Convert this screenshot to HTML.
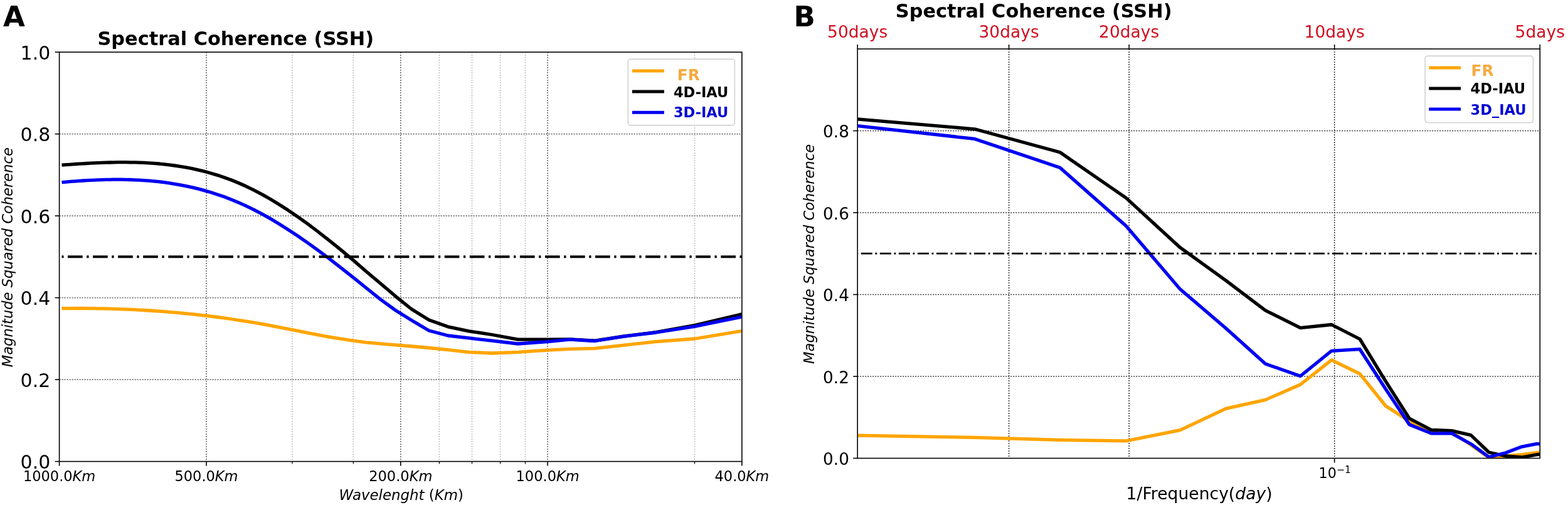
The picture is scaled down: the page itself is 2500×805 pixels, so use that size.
<!DOCTYPE html><html><head><meta charset="utf-8"><title>Spectral Coherence (SSH)</title>
<style>html,body{margin:0;padding:0;background:#fff;}svg{display:block;}text{font-family:"DejaVu Sans", "Liberation Sans", sans-serif;}</style></head><body>
<svg width="2500" height="805" viewBox="0 0 2500 805">
<rect x="0" y="0" width="2500" height="805" fill="#fff"/>
<defs><clipPath id="ca"><rect x="94.6" y="83.1" width="1088.3" height="652.5"/></clipPath>
<clipPath id="cb"><rect x="1367.2" y="78.0" width="1088.1" height="652.5"/></clipPath></defs>
<line x1="466.0" y1="83.1" x2="466.0" y2="735.6" stroke="#c2c2c2" stroke-width="1.6" stroke-dasharray="2 2"/>
<line x1="563.3" y1="83.1" x2="563.3" y2="735.6" stroke="#c2c2c2" stroke-width="1.6" stroke-dasharray="2 2"/>
<line x1="700.4" y1="83.1" x2="700.4" y2="735.6" stroke="#c2c2c2" stroke-width="1.6" stroke-dasharray="2 2"/>
<line x1="752.5" y1="83.1" x2="752.5" y2="735.6" stroke="#c2c2c2" stroke-width="1.6" stroke-dasharray="2 2"/>
<line x1="797.7" y1="83.1" x2="797.7" y2="735.6" stroke="#c2c2c2" stroke-width="1.6" stroke-dasharray="2 2"/>
<line x1="837.5" y1="83.1" x2="837.5" y2="735.6" stroke="#c2c2c2" stroke-width="1.6" stroke-dasharray="2 2"/>
<line x1="1107.5" y1="83.1" x2="1107.5" y2="735.6" stroke="#c2c2c2" stroke-width="1.6" stroke-dasharray="2 2"/>
<line x1="329.0" y1="83.1" x2="329.0" y2="735.6" stroke="#6a6a6a" stroke-width="1.6" stroke-dasharray="2 2"/>
<line x1="638.8" y1="83.1" x2="638.8" y2="735.6" stroke="#6a6a6a" stroke-width="1.6" stroke-dasharray="2 2"/>
<line x1="873.1" y1="83.1" x2="873.1" y2="735.6" stroke="#6a6a6a" stroke-width="1.6" stroke-dasharray="2 2"/>
<line x1="94.6" y1="605.1" x2="1182.9" y2="605.1" stroke="#6a6a6a" stroke-width="1.6" stroke-dasharray="2 2"/>
<line x1="94.6" y1="474.6" x2="1182.9" y2="474.6" stroke="#6a6a6a" stroke-width="1.6" stroke-dasharray="2 2"/>
<line x1="94.6" y1="344.1" x2="1182.9" y2="344.1" stroke="#6a6a6a" stroke-width="1.6" stroke-dasharray="2 2"/>
<line x1="94.6" y1="213.6" x2="1182.9" y2="213.6" stroke="#6a6a6a" stroke-width="1.6" stroke-dasharray="2 2"/>
<g clip-path="url(#ca)" fill="none" stroke-width="5.3" stroke-linejoin="round" stroke-linecap="butt">
<polyline points="98.5,491.7 104.9,491.6 110.2,491.6 115.5,491.6 121.0,491.5 126.5,491.5 132.1,491.5 137.8,491.6 143.6,491.6 149.5,491.7 155.6,491.8 161.7,491.9 167.9,492.0 174.3,492.2 180.8,492.3 187.4,492.6 194.1,492.8 201.0,493.1 208.0,493.4 215.2,493.7 222.5,494.1 230.0,494.5 237.7,495.0 245.5,495.5 253.5,496.1 261.7,496.7 270.1,497.4 278.8,498.1 287.6,498.9 296.7,499.8 306.1,500.7 315.7,501.8 325.6,502.9 335.8,504.1 346.3,505.5 357.1,506.9 368.4,508.5 379.9,510.3 392.0,512.1 404.4,514.2 417.3,516.4 430.8,518.9 444.7,521.6 459.3,524.4 474.6,527.4 490.6,530.6 507.3,533.8 525.0,537.1 543.6,540.2 563.3,543.2 584.2,545.9 606.5,547.9 630.4,549.8 656.1,552.0 683.9,554.5 714.2,557.6 747.5,561.3 784.4,563.0 825.8,561.3 873.1,558.1 908.7,556.4 948.5,555.4 993.7,550.3 1045.8,544.6 1107.5,540.0 1182.9,527.5" stroke="#ffa500"/>
<polyline points="98.5,263.1 104.9,262.6 110.2,262.3 115.5,261.9 121.0,261.5 126.5,261.2 132.1,260.9 137.8,260.5 143.6,260.2 149.5,259.9 155.6,259.6 161.7,259.4 167.9,259.2 174.3,259.0 180.8,258.8 187.4,258.7 194.1,258.7 201.0,258.7 208.0,258.8 215.2,258.9 222.5,259.1 230.0,259.4 237.7,259.9 245.5,260.4 253.5,261.0 261.7,261.9 270.1,262.8 278.8,264.0 287.6,265.3 296.7,266.9 306.1,268.7 315.7,270.8 325.6,273.2 335.8,276.0 346.3,279.1 357.1,282.7 368.4,286.8 379.9,291.5 392.0,296.8 404.4,302.8 417.3,309.6 430.8,317.2 444.7,325.7 459.3,335.1 474.6,345.5 490.6,356.9 507.3,369.5 525.0,383.3 543.6,398.4 563.3,414.9 584.2,432.9 606.5,451.7 630.4,472.1 656.1,492.8 683.9,510.0 714.2,520.8 747.5,527.8 784.4,533.5 825.8,541.1 873.1,541.2 908.7,540.8 948.5,543.2 993.7,536.1 1045.8,529.6 1107.5,518.6 1182.9,500.8" stroke="#000"/>
<polyline points="98.5,290.7 104.9,290.1 110.2,289.7 115.5,289.2 121.0,288.8 126.5,288.4 132.1,288.0 137.8,287.7 143.6,287.4 149.5,287.1 155.6,286.8 161.7,286.6 167.9,286.4 174.3,286.3 180.8,286.2 187.4,286.2 194.1,286.2 201.0,286.3 208.0,286.5 215.2,286.8 222.5,287.1 230.0,287.6 237.7,288.2 245.5,288.9 253.5,289.7 261.7,290.7 270.1,291.9 278.8,293.3 287.6,294.8 296.7,296.6 306.1,298.6 315.7,300.9 325.6,303.6 335.8,306.5 346.3,309.9 357.1,313.6 368.4,317.9 379.9,322.7 392.0,328.1 404.4,334.1 417.3,340.9 430.8,348.4 444.7,356.7 459.3,365.9 474.6,376.0 490.6,387.1 507.3,399.2 525.0,412.4 543.6,426.8 563.3,442.4 584.2,459.3 606.5,477.1 630.4,494.5 656.1,510.5 683.9,527.0 714.2,535.0 747.5,538.9 784.4,543.2 825.8,548.0 873.1,544.7 908.7,541.1 948.5,543.5 993.7,536.4 1045.8,530.0 1107.5,520.3 1182.9,505.0" stroke="#0000f2"/>
</g>
<line x1="98.5" y1="409.2" x2="1182.9" y2="409.2" stroke="#000" stroke-width="3.9" stroke-dasharray="23.7 6.5 3.35 6.5" stroke-dashoffset="30.55" clip-path="url(#ca)"/>
<rect x="94.6" y="83.1" width="1088.3" height="652.5" fill="none" stroke="#000" stroke-width="1.6"/>
<line x1="87.6" y1="735.6" x2="94.6" y2="735.6" stroke="#000" stroke-width="1.6"/>
<line x1="87.6" y1="605.1" x2="94.6" y2="605.1" stroke="#000" stroke-width="1.6"/>
<line x1="87.6" y1="474.6" x2="94.6" y2="474.6" stroke="#000" stroke-width="1.6"/>
<line x1="87.6" y1="344.1" x2="94.6" y2="344.1" stroke="#000" stroke-width="1.6"/>
<line x1="87.6" y1="213.6" x2="94.6" y2="213.6" stroke="#000" stroke-width="1.6"/>
<line x1="87.6" y1="83.1" x2="94.6" y2="83.1" stroke="#000" stroke-width="1.6"/>
<line x1="94.6" y1="735.6" x2="94.6" y2="742.6" stroke="#000" stroke-width="1.6"/>
<line x1="329.0" y1="735.6" x2="329.0" y2="742.6" stroke="#000" stroke-width="1.6"/>
<line x1="638.8" y1="735.6" x2="638.8" y2="742.6" stroke="#000" stroke-width="1.6"/>
<line x1="873.1" y1="735.6" x2="873.1" y2="742.6" stroke="#000" stroke-width="1.6"/>
<line x1="1182.9" y1="735.6" x2="1182.9" y2="742.6" stroke="#000" stroke-width="1.6"/>
<line x1="466.0" y1="735.6" x2="466.0" y2="739.6" stroke="#000" stroke-width="1.2"/>
<line x1="563.3" y1="735.6" x2="563.3" y2="739.6" stroke="#000" stroke-width="1.2"/>
<line x1="700.4" y1="735.6" x2="700.4" y2="739.6" stroke="#000" stroke-width="1.2"/>
<line x1="752.5" y1="735.6" x2="752.5" y2="739.6" stroke="#000" stroke-width="1.2"/>
<line x1="797.7" y1="735.6" x2="797.7" y2="739.6" stroke="#000" stroke-width="1.2"/>
<line x1="837.5" y1="735.6" x2="837.5" y2="739.6" stroke="#000" stroke-width="1.2"/>
<line x1="1107.5" y1="735.6" x2="1107.5" y2="739.6" stroke="#000" stroke-width="1.2"/>
<text x="80.3" y="747.1" font-size="30" text-anchor="end">0.0</text>
<text x="80.3" y="616.6" font-size="30" text-anchor="end">0.2</text>
<text x="80.3" y="486.1" font-size="30" text-anchor="end">0.4</text>
<text x="80.3" y="355.6" font-size="30" text-anchor="end">0.6</text>
<text x="80.3" y="225.1" font-size="30" text-anchor="end">0.8</text>
<text x="80.3" y="94.6" font-size="30" text-anchor="end">1.0</text>
<text x="94.6" y="767.0" font-size="22.5" text-anchor="middle">1000.0<tspan font-style="italic">Km</tspan></text>
<text x="329.0" y="767.0" font-size="22.5" text-anchor="middle">500.0<tspan font-style="italic">Km</tspan></text>
<text x="638.8" y="767.0" font-size="22.5" text-anchor="middle">200.0<tspan font-style="italic">Km</tspan></text>
<text x="873.1" y="767.0" font-size="22.5" text-anchor="middle">100.0<tspan font-style="italic">Km</tspan></text>
<text x="1182.9" y="767.0" font-size="22.5" text-anchor="middle">40.0<tspan font-style="italic">Km</tspan></text>
<text x="639.8" y="796.6" font-size="22.9" font-style="italic" text-anchor="middle">Wavelenght <tspan font-style="normal">(</tspan>Km<tspan font-style="normal">)</tspan></text>
<text transform="translate(19.5,410.2) rotate(-90)" font-size="22.6" font-style="italic" text-anchor="middle">Magnitude Squared Coherence</text>
<text x="155.4" y="72" font-size="30.4" font-weight="bold">Spectral Coherence (SSH)</text>
<text x="5" y="42.2" font-size="45" font-weight="bold">A</text>
<rect x="1001.4" y="94.2" width="170" height="105.6" rx="4" fill="#fff" fill-opacity="0.8" stroke="#cccccc" stroke-width="1.4"/>
<line x1="1007.9" y1="112.9" x2="1058.9" y2="112.9" stroke="#ffa500" stroke-width="5"/>
<line x1="1007.9" y1="146.0" x2="1058.9" y2="146.0" stroke="#000" stroke-width="5"/>
<line x1="1007.9" y1="179.3" x2="1058.9" y2="179.3" stroke="#0000f2" stroke-width="5"/>
<text x="1079.7" y="127.8" font-size="24.8" font-weight="bold" fill="#f5aa40">FR</text>
<text x="1073.9" y="154.5" font-size="22.5" font-weight="bold" fill="#000">4D-IAU</text>
<text x="1073.9" y="186.8" font-size="22.5" font-weight="bold" fill="#0505d0">3D-IAU</text>
<line x1="1367.2" y1="600.0" x2="2455.3" y2="600.0" stroke="#3a3a3a" stroke-width="1.6" stroke-dasharray="2 2"/>
<line x1="1367.2" y1="469.5" x2="2455.3" y2="469.5" stroke="#3a3a3a" stroke-width="1.6" stroke-dasharray="2 2"/>
<line x1="1367.2" y1="339.0" x2="2455.3" y2="339.0" stroke="#3a3a3a" stroke-width="1.6" stroke-dasharray="2 2"/>
<line x1="1367.2" y1="208.5" x2="2455.3" y2="208.5" stroke="#3a3a3a" stroke-width="1.6" stroke-dasharray="2 2"/>
<line x1="1608.6" y1="78.0" x2="1608.6" y2="730.5" stroke="#3a3a3a" stroke-width="1.6" stroke-dasharray="2 2"/>
<line x1="1800.2" y1="78.0" x2="1800.2" y2="730.5" stroke="#3a3a3a" stroke-width="1.6" stroke-dasharray="2 2"/>
<line x1="2127.7" y1="78.0" x2="2127.7" y2="730.5" stroke="#3a3a3a" stroke-width="1.6" stroke-dasharray="2 2"/>
<g clip-path="url(#cb)" fill="none" stroke-width="5.3" stroke-linejoin="round" stroke-linecap="butt">
<polyline points="1362.5,694.1 1554.1,697.3 1690.0,701.3 1795.5,702.9 1881.7,685.7 1954.5,651.4 2017.6,637.4 2073.3,613.0 2123.0,573.9 2168.1,595.8 2209.2,647.0 2247.0,671.3 2282.0,686.3 2314.7,689.0 2345.2,709.0 2373.8,729.4 2400.8,727.0 2426.4,724.7 2450.6,721.3 2473.7,720.0" stroke="#ffa500"/>
<polyline points="1362.5,189.4 1554.1,205.8 1690.0,242.8 1795.5,315.6 1881.7,394.7 1954.5,447.1 2017.6,494.8 2073.3,522.6 2123.0,517.5 2168.1,540.5 2209.2,607.6 2247.0,667.0 2282.0,685.3 2314.7,686.6 2345.2,693.7 2373.8,721.0 2400.8,727.0 2426.4,729.0 2450.6,724.6 2473.7,723.2" stroke="#000"/>
<polyline points="1362.5,200.2 1554.1,221.4 1690.0,267.2 1795.5,360.3 1881.7,461.1 1954.5,523.2 2017.6,580.0 2073.3,599.5 2123.0,559.3 2168.1,556.7 2209.2,620.0 2247.0,676.8 2282.0,690.9 2314.7,690.9 2345.2,707.7 2373.8,728.5 2400.8,721.7 2426.4,712.1 2450.6,707.3 2473.7,709.5" stroke="#0000f2"/>
</g>
<line x1="1367.2" y1="404.1" x2="2455.3" y2="404.1" stroke="#000" stroke-width="2.8" stroke-dasharray="18.03 4.56 2.9 4.56" stroke-dashoffset="24.45" clip-path="url(#cb)"/>
<rect x="1367.2" y="78.0" width="1088.1" height="652.5" fill="none" stroke="#000" stroke-width="1.6"/>
<line x1="1360.2" y1="730.5" x2="1367.2" y2="730.5" stroke="#000" stroke-width="1.6"/>
<text x="1353.9" y="741.3" font-size="26.3" text-anchor="end">0.0</text>
<line x1="1360.2" y1="600.0" x2="1367.2" y2="600.0" stroke="#000" stroke-width="1.6"/>
<text x="1353.9" y="610.8" font-size="26.3" text-anchor="end">0.2</text>
<line x1="1360.2" y1="469.5" x2="1367.2" y2="469.5" stroke="#000" stroke-width="1.6"/>
<text x="1353.9" y="480.3" font-size="26.3" text-anchor="end">0.4</text>
<line x1="1360.2" y1="339.0" x2="1367.2" y2="339.0" stroke="#000" stroke-width="1.6"/>
<text x="1353.9" y="349.8" font-size="26.3" text-anchor="end">0.6</text>
<line x1="1360.2" y1="208.5" x2="1367.2" y2="208.5" stroke="#000" stroke-width="1.6"/>
<text x="1353.9" y="219.3" font-size="26.3" text-anchor="end">0.8</text>
<line x1="1367.2" y1="71.0" x2="1367.2" y2="78.0" stroke="#000" stroke-width="1.6"/>
<text x="1367.2" y="59.9" font-size="26.5" text-anchor="middle" fill="#d01020">50days</text>
<line x1="1608.6" y1="71.0" x2="1608.6" y2="78.0" stroke="#000" stroke-width="1.6"/>
<text x="1608.6" y="59.9" font-size="26.5" text-anchor="middle" fill="#d01020">30days</text>
<line x1="1800.2" y1="71.0" x2="1800.2" y2="78.0" stroke="#000" stroke-width="1.6"/>
<text x="1800.2" y="59.9" font-size="26.5" text-anchor="middle" fill="#d01020">20days</text>
<line x1="2127.7" y1="71.0" x2="2127.7" y2="78.0" stroke="#000" stroke-width="1.6"/>
<text x="2127.7" y="59.9" font-size="26.5" text-anchor="middle" fill="#d01020">10days</text>
<line x1="2455.3" y1="71.0" x2="2455.3" y2="78.0" stroke="#000" stroke-width="1.6"/>
<text x="2455.3" y="59.9" font-size="26.5" text-anchor="middle" fill="#d01020">5days</text>
<line x1="2127.7" y1="730.5" x2="2127.7" y2="737.5" stroke="#000" stroke-width="1.6"/>
<text x="2102.6" y="761.9" font-size="22.3">10<tspan font-size="15.6" dy="-8.4">&#8722;1</tspan></text>
<text x="1912.1" y="795.5" font-size="26.6" text-anchor="middle">1/Frequency(<tspan font-style="italic">day</tspan>)</text>
<text transform="translate(1298.2,404.9) rotate(-90)" font-size="22.6" font-style="italic" text-anchor="middle">Magnitude Squared Coherence</text>
<text x="1427.8" y="27.9" font-size="30.4" font-weight="bold">Spectral Coherence (SSH)</text>
<text x="1265.5" y="42.3" font-size="45" font-weight="bold">B</text>
<rect x="2272.1" y="89.3" width="172.3" height="106.3" rx="4" fill="#fff" fill-opacity="0.8" stroke="#cccccc" stroke-width="1.4"/>
<line x1="2278.3" y1="107.9" x2="2329.1" y2="107.9" stroke="#ffa500" stroke-width="5"/>
<line x1="2278.3" y1="141.0" x2="2329.1" y2="141.0" stroke="#000" stroke-width="5"/>
<line x1="2278.3" y1="173.9" x2="2329.1" y2="173.9" stroke="#0000f2" stroke-width="5"/>
<text x="2345.5" y="120.7" font-size="24.8" font-weight="bold" fill="#f5aa40">FR</text>
<text x="2344.6" y="149.4" font-size="22.5" font-weight="bold" fill="#000">4D-IAU</text>
<text x="2344.6" y="182.5" font-size="22.5" font-weight="bold" fill="#0505d0">3D_IAU</text>
</svg></body></html>
